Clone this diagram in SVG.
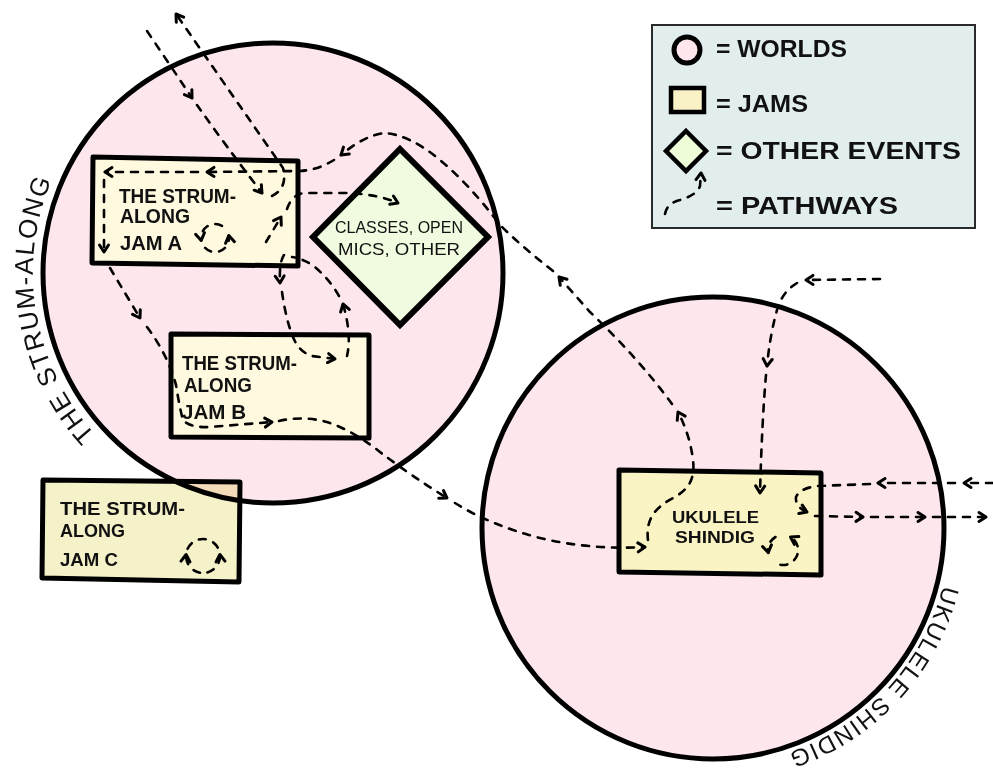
<svg xmlns="http://www.w3.org/2000/svg" width="993" height="778" viewBox="0 0 993 778">
<style>
.world{fill:#fde7ec;stroke:#000;stroke-width:5;mix-blend-mode:multiply}
.jam{stroke:#000;stroke-width:5;stroke-linejoin:round}
.jt{font-family:"Liberation Sans",Arial,sans-serif;font-weight:bold;font-size:20px;fill:#111}
.lt{font-family:"Liberation Sans",Arial,sans-serif;font-weight:bold;font-size:23px;fill:#111}
.dt{font-family:"Liberation Sans",Arial,sans-serif;font-size:17px;fill:#111}
.wl{font-family:"Liberation Sans",Arial,sans-serif;font-size:26px;fill:#111;letter-spacing:1.5px}
.pw{fill:none;stroke:#000;stroke-width:2.6;stroke-dasharray:7 8;stroke-linecap:round;marker-end:url(#ah)}
.pn{fill:none;stroke:#000;stroke-width:2.6;stroke-dasharray:7 8;stroke-linecap:round}
</style>
<defs>
<marker id="ah" viewBox="0 0 12 12" refX="10" refY="6" markerWidth="12" markerHeight="12" orient="auto" markerUnits="userSpaceOnUse" overflow="visible">
<path d="M3,1.5 L10,6 L3,10.5" fill="none" stroke="#000" stroke-width="3" stroke-linecap="round" stroke-linejoin="round"/>
</marker>
<path id="arc1" d="M118.7,456.9 A240,240 0 0,1 89.1,118.7"/>
<path id="arc2" d="M949.1,548.7 A237,237 0 0,1 671.8,761.4"/>
</defs>
<rect width="993" height="778" fill="#fff"/>

<g id="jam-c">
<polygon class="jam" points="43,480 240,482 239,582 42,578" fill="#f5f1c8"/>
<text class="jt" x="60" y="515" textLength="125" lengthAdjust="spacingAndGlyphs" style="font-size:18px">THE STRUM-</text>
<text class="jt" x="60" y="537" textLength="65" lengthAdjust="spacingAndGlyphs" style="font-size:18px">ALONG</text>
<text class="jt" x="60" y="566" textLength="58" lengthAdjust="spacingAndGlyphs" style="font-size:18px">JAM C</text>
</g>

<g id="world-strum-along">
<circle class="world" cx="273" cy="273" r="230"/>
<text class="wl"><textPath href="#arc1" startOffset="32">THE STRUM-ALONG</textPath></text>
</g>

<g id="world-ukulele-shindig">
<circle class="world" cx="713" cy="528" r="231"/>
<text class="wl" style="font-size:24px;letter-spacing:1.5px"><textPath href="#arc2" startOffset="37">UKULELE SHINDIG</textPath></text>
</g>

<g id="jam-a">
<polygon class="jam" points="93,157 298,161 298,266 92,263" fill="#fef9df"/>
<text class="jt" x="119" y="203" textLength="117" lengthAdjust="spacingAndGlyphs">THE STRUM-</text>
<text class="jt" x="120" y="223" textLength="70" lengthAdjust="spacingAndGlyphs">ALONG</text>
<text class="jt" x="120" y="250" textLength="62" lengthAdjust="spacingAndGlyphs">JAM A</text>
</g>

<g id="jam-b">
<polygon class="jam" points="171,334 369,335 369,438 171,437" fill="#fef9df"/>
<text class="jt" x="182" y="370" textLength="115" lengthAdjust="spacingAndGlyphs">THE STRUM-</text>
<text class="jt" x="184" y="392" textLength="68" lengthAdjust="spacingAndGlyphs">ALONG</text>
<text class="jt" x="182" y="419" textLength="64" lengthAdjust="spacingAndGlyphs">JAM B</text>
</g>

<g id="event-classes">
<polygon points="400,149 488,237 400,325 313,237" fill="#f0fbe0" stroke="#000" stroke-width="6" stroke-linejoin="miter"/>
<text class="dt" x="335" y="233" textLength="128" lengthAdjust="spacingAndGlyphs">CLASSES, OPEN</text>
<text class="dt" x="338" y="255" textLength="122" lengthAdjust="spacingAndGlyphs">MICS, OTHER</text>
</g>

<g id="jam-ukulele">
<polygon class="jam" points="619,470 821,473 821,575 619,572" fill="#faf3c3" stroke-width="4.5"/>
<text class="jt" x="672" y="523" textLength="87" lengthAdjust="spacingAndGlyphs" style="font-size:17px">UKULELE</text>
<text class="jt" x="675" y="543" textLength="80" lengthAdjust="spacingAndGlyphs" style="font-size:17px">SHINDIG</text>
</g>

<g id="legend">
<rect x="652" y="25" width="323" height="203" fill="#e2eeee" stroke="#2a2a2a" stroke-width="2"/>
<circle cx="687" cy="50" r="13" fill="#fde7ec" stroke="#000" stroke-width="5"/>
<rect x="671" y="88" width="33" height="24" fill="#f8f2c6" stroke="#000" stroke-width="4.5"/>
<polygon points="686,131 706,151 686,171 666,151" fill="#eefcd8" stroke="#000" stroke-width="4.5"/>
<path class="pw" d="M665,214 Q667,203 680,200 Q697,195 700,186 L701,173"/>
<text class="lt" x="716" y="57" textLength="131" lengthAdjust="spacingAndGlyphs">= WORLDS</text>
<text class="lt" x="716" y="112" textLength="92" lengthAdjust="spacingAndGlyphs">= JAMS</text>
<text class="lt" x="716" y="159" textLength="245" lengthAdjust="spacingAndGlyphs">= OTHER EVENTS</text>
<text class="lt" x="716" y="214" textLength="182" lengthAdjust="spacingAndGlyphs">= PATHWAYS</text>
</g>

<g id="connectors">
<!-- into Jam A from top-left -->
<path class="pw" d="M147,31 Q170,65 192,98"/>
<path class="pw" d="M197,105 Q226,146 262,193"/>
<!-- out of Jam A to top -->
<path class="pw" d="M272,196 Q288,188 283,168 L176,14"/>
<!-- Ukulele back to Jam A -->
<path class="pw" d="M648,540 C645,515 660,505 675,497 C690,488 695,478 693,460 Q690,435 678,412"/>
<path class="pw" d="M672,404 Q640,360 590,312 L559,277"/>
<path class="pw" d="M553,271 Q520,245 500,225 Q470,185 440,160 Q410,135 385,133 Q365,135 341,155"/>
<path class="pw" d="M334,160 Q318,170 300,171 L207,172"/>
<path class="pw" d="M198,172 L105,172"/>
<path class="pw" d="M104,180 L104,252"/>
<!-- Jam A to diamond -->
<path class="pw" d="M266,242 L281,217"/>
<path class="pw" d="M287,209 Q292,194 305,193 L350,193 Q380,195 398,203"/>
<!-- Jam A to Jam B (left) and on to Ukulele -->
<path class="pw" d="M110,268 L140,318"/>
<path class="pw" d="M147,327 Q168,355 176,385 Q180,410 183,420 Q190,428 210,427 L272,422"/>
<path class="pw" d="M279,421 Q305,415 330,423 Q355,432 380,452 Q410,475 447,498"/>
<path class="pw" d="M455,503 Q490,525 540,538 Q590,550 645,547"/>
<!-- Jam A to Jam B (right) -->
<path class="pw" d="M284,255 Q279,262 280,283"/>
<path class="pw" d="M282,292 Q286,320 293,337 Q299,352 312,356 L335,359"/>
<!-- Jam B to Jam A -->
<path class="pw" d="M347,356 Q352,335 343,304"/>
<path class="pn" d="M339,296 Q330,280 316,268 Q305,259 292,257"/>
<!-- into Ukulele from top-right -->
<path class="pw" d="M880,279 L806,280"/>
<path class="pw" d="M797,283 Q782,292 777,310 Q770,335 767,366"/>
<path class="pw" d="M766,375 Q762,420 760,493"/>
<!-- into Ukulele from right -->
<path class="pw" d="M993,483 L964,483"/>
<path class="pw" d="M955,483 L878,483"/>
<path class="pw" d="M870,484 L818,486 Q800,488 796,497 Q795,507 807,512"/>
<!-- out of Ukulele to right -->
<path class="pw" d="M815,516 L863,517"/>
<path class="pw" d="M871,517 L925,517"/>
<path class="pw" d="M933,517 L986,517"/>
<!-- loops -->
<path class="pw" d="M222,225.9 A14,14 0 0,0 201.2,240.4"/>
<path class="pw" d="M205.1,247.9 A14,14 0 0,0 228.8,235.6"/>
<path class="pw" d="M200,572.7 A17,17 0 0,1 186.1,554.5"/>
<path class="pw" d="M207.4,572.4 A17,17 0 0,0 219.9,554.5"/>
<path class="pn" d="M187.6,548.8 A17,17 0 0,1 218.4,548.8"/>
<path class="pw" d="M780.4,564.8 A15,15 0 0,0 790.5,537"/>
<path class="pw" d="M775.5,537 A15,15 0 0,0 768.2,552.6"/>
</g>
</svg>
